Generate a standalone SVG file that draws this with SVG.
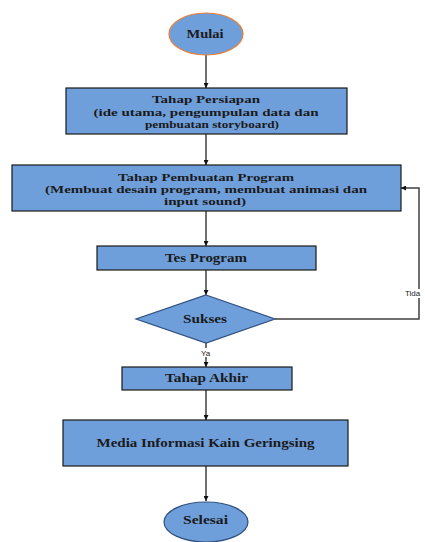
<svg xmlns="http://www.w3.org/2000/svg" width="425" height="542" viewBox="0 0 425 542">
<style>
.box{fill:#6f9fdb;stroke:#1a1a1a;stroke-width:1.2}
.t{font-family:"Liberation Serif","Times New Roman",serif;font-weight:bold;font-size:11.5px;fill:#1a1a1a;text-anchor:middle}
.s{font-size:10.5px}
.lbl{font-family:"Liberation Sans",Arial,sans-serif;font-size:8px;fill:#1a1a1a}
.c{stroke:#404040;stroke-width:1.5;fill:none}
</style>
<defs>
<marker id="ah" viewBox="0 0 10 10" refX="10" refY="5" markerWidth="5" markerHeight="5" orient="auto" markerUnits="userSpaceOnUse">
<path d="M0,0 L10,5 L0,10 z" fill="#111"/>
</marker>
</defs>
<rect width="425" height="542" fill="#fff"/>
<g id="connectors">
<line class="c" x1="206" y1="55" x2="206" y2="88" marker-end="url(#ah)"/>
<line class="c" x1="206" y1="134" x2="206" y2="165" marker-end="url(#ah)"/>
<line class="c" x1="206" y1="211" x2="206" y2="246" marker-end="url(#ah)"/>
<line class="c" x1="206" y1="270" x2="206" y2="295" marker-end="url(#ah)"/>
<line class="c" x1="206" y1="343" x2="206" y2="367" marker-end="url(#ah)"/>
<line class="c" x1="206" y1="390" x2="206" y2="420" marker-end="url(#ah)"/>
<line class="c" x1="206" y1="466" x2="206" y2="501" marker-end="url(#ah)"/>
<polyline class="c" points="275,319 419,319 419,188 401,188" marker-end="url(#ah)"/>
<rect x="404" y="289" width="21" height="9" fill="#fff"/>
<text class="lbl" x="405" y="296">Tida</text>
<rect x="200" y="348" width="13" height="9" fill="#fff"/>
<text class="lbl" x="201" y="356">Ya</text>
</g>
<g id="mulai">
<ellipse cx="206" cy="34" rx="37" ry="21" fill="#6f9fdb" stroke="#ed7d31" stroke-width="1.2"/>
<text class="t" x="205" y="38" textLength="37" lengthAdjust="spacingAndGlyphs">Mulai</text>
</g>
<g id="persiapan">
<rect class="box" x="66" y="88" width="281" height="46"/>
<text class="t s" x="206" y="103" textLength="108" lengthAdjust="spacingAndGlyphs">Tahap Persiapan</text>
<text class="t s" x="206" y="115.5" textLength="225" lengthAdjust="spacingAndGlyphs">(ide utama, pengumpulan data dan</text>
<text class="t s" x="212" y="128" textLength="134" lengthAdjust="spacingAndGlyphs">pembuatan storyboard)</text>
</g>
<g id="pembuatan">
<rect class="box" x="12" y="165" width="389" height="46"/>
<text class="t s" x="206" y="180.5" textLength="176" lengthAdjust="spacingAndGlyphs">Tahap Pembuatan Program</text>
<text class="t s" x="206" y="192.5" textLength="322" lengthAdjust="spacingAndGlyphs">(Membuat desain program, membuat animasi dan</text>
<text class="t s" x="205" y="204.5" textLength="82" lengthAdjust="spacingAndGlyphs">input sound)</text>
</g>
<g id="tes">
<rect class="box" x="97" y="246" width="219" height="24"/>
<text class="t" x="206" y="261.5" textLength="82" lengthAdjust="spacingAndGlyphs">Tes Program</text>
</g>
<g id="sukses">
<polygon points="206,295 275,319 206,343 136,319" fill="#6f9fdb" stroke="#2f4f7f" stroke-width="1.2"/>
<text class="t" x="205" y="323" textLength="44" lengthAdjust="spacingAndGlyphs">Sukses</text>
</g>
<g id="akhir">
<rect class="box" x="122" y="367" width="170" height="23"/>
<text class="t" x="206.5" y="382" textLength="83" lengthAdjust="spacingAndGlyphs">Tahap Akhir</text>
</g>
<g id="media">
<rect class="box" x="63" y="420" width="285" height="46"/>
<text class="t" x="205.5" y="447" textLength="218" lengthAdjust="spacingAndGlyphs">Media Informasi Kain Geringsing</text>
</g>
<g id="selesai">
<ellipse cx="206" cy="522" rx="42" ry="20" fill="#6f9fdb" stroke="#2f4f7f" stroke-width="1.2"/>
<text class="t" x="205.5" y="524" textLength="45" lengthAdjust="spacingAndGlyphs">Selesai</text>
</g>
</svg>
